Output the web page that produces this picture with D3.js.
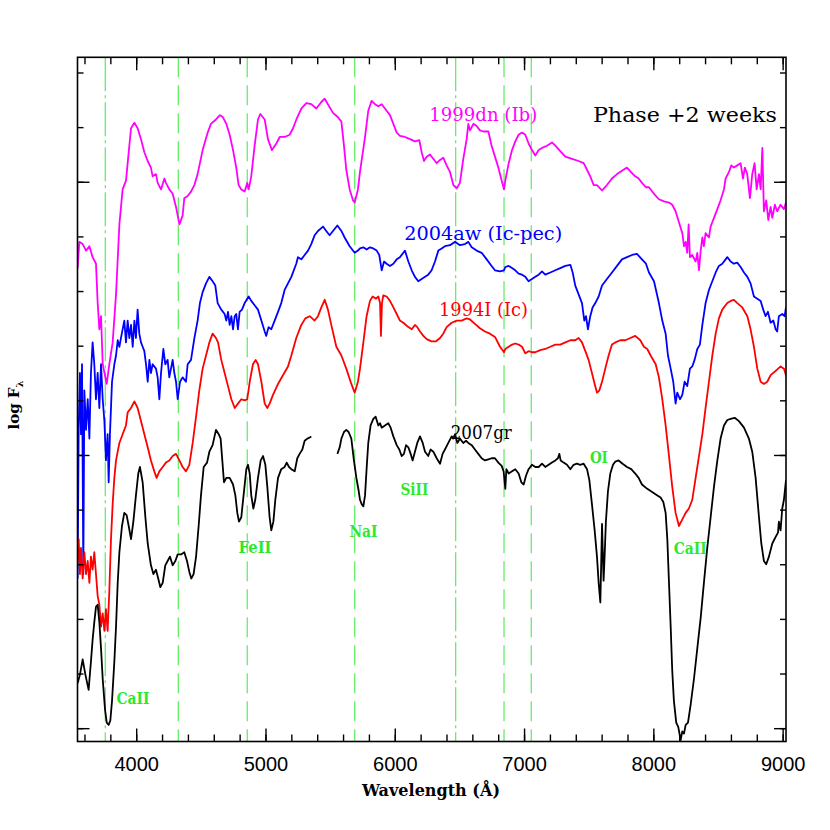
<!DOCTYPE html>
<html>
<head>
<meta charset="utf-8">
<script src="https://cdn.jsdelivr.net/npm/d3@7"></script>
<style>
body { margin: 0; background: #fff; }
svg { display: block; }
</style>
</head>
<body>
<div id="chart"></div>
<script>
// spectra: [wavelength (A), log F + offset]
var sn1999dn = [[3547,4.21],[3560,4.45],[3586,4.43],[3612,4.37],[3638,4.41],[3663,4.31],[3689,4.25],[3702,3.89],[3715,3.65],[3728,3.77],[3741,3.33],[3772,3.15],[3792,3.33],[3818,3.53],[3844,3.97],[3870,4.61],[3895,4.93],[3921,5.01],[3934,5.17],[3960,5.49],[3986,5.54],[4011,5.49],[4037,5.39],[4063,5.27],[4089,5.19],[4114,5.13],[4127,5.05],[4153,5.07],[4166,4.99],[4192,4.93],[4218,5.03],[4230,4.99],[4256,4.93],[4282,4.89],[4308,4.77],[4334,4.61],[4359,4.69],[4372,4.85],[4398,4.87],[4424,4.91],[4450,4.97],[4475,5.07],[4514,5.29],[4553,5.45],[4578,5.53],[4617,5.57],[4648,5.61],
  [4671,5.59],[4697,5.53],[4723,5.43],[4749,5.29],[4774,5.13],[4792,4.97],[4813,4.93],[4839,4.91],[4859,4.99],[4870,4.93],[4890,5.05],[4916,5.33],[4942,5.57],[4960,5.62],[4994,5.57],[5019,5.39],[5050,5.29],[5084,5.35],[5110,5.41],[5148,5.41],[5187,5.43],[5213,5.49],[5239,5.57],[5277,5.67],[5316,5.72],[5354,5.71],[5393,5.67],[5432,5.73],[5458,5.76],[5483,5.71],[5522,5.63],[5561,5.59],[5587,5.55],[5607,5.33],[5625,5.11],[5651,4.93],[5677,4.83],[5690,4.81],[5715,4.93],
  [5731,5.09],[5770,5.41],[5795,5.65],[5821,5.74],[5847,5.71],[5873,5.69],[5899,5.71],[5924,5.67],[5963,5.61],[5989,5.53],[6015,5.45],[6040,5.42],[6079,5.41],[6118,5.39],[6156,5.37],[6190,5.38],[6208,5.27],[6226,5.19],[6247,5.23],[6272,5.25],[6298,5.21],[6324,5.17],[6350,5.20],[6375,5.22],[6401,5.15],[6427,5.09],[6453,4.97],[6479,4.94],[6504,4.99],[6530,5.21],[6556,5.39],[6569,5.53],[6582,5.47],[6608,5.53],[6633,5.51],[6659,5.47],[6685,5.46],[6724,5.46],[6749,5.33],[6775,5.23],[6801,5.13],[6827,5.01],[6845,4.93],
  [6855,5.01],[6881,5.17],[6907,5.29],[6932,5.37],[6958,5.43],[6984,5.45],[7010,5.43],[7035,5.35],[7061,5.29],[7087,5.24],[7113,5.29],[7139,5.31],[7177,5.33],[7216,5.36],[7242,5.33],[7280,5.28],[7319,5.23],[7371,5.21],[7422,5.19],[7461,5.17],[7487,5.11],[7512,5.05],[7538,4.97],[7564,4.97],[7603,4.92],[7641,4.97],[7680,5.03],[7719,5.07],[7757,5.10],[7796,5.13],[7835,5.08],[7860,5.05],[7886,5.03],[7912,4.99],
  [7943,4.95],[7966,4.95],[8005,4.89],[8043,4.84],[8082,4.82],[8121,4.81],[8146,4.79],[8172,4.73],[8198,4.63],[8224,4.53],[8237,4.41],[8250,4.45],[8262,4.35],[8273,4.61],[8283,4.31],[8301,4.33],[8327,4.27],[8340,4.35],[8353,4.19],[8366,4.37],[8379,4.49],[8391,4.41],[8404,4.53],[8430,4.49],[8443,4.59],[8456,4.63],[8469,4.67],[8495,4.75],[8520,4.83],[8546,4.93],[8559,5.03],[8585,5.09],[8603,5.15],[8623,5.13],[8649,5.15],[8675,5.17],[8693,5.03],[8708,5.13],[8726,5.07],[8747,4.85],[8765,5.07],[8783,5.17],[8799,4.93],[8817,5.07],[8830,4.93],[8843,5.31],[8855,4.73],[8873,4.83],[8889,4.65],[8907,4.77],[8920,4.67],[8940,4.79],[8958,4.73],[8984,4.79],[9010,4.75],[9026,4.81]];

var sn2004aw = [[3547,1.37],[3555,2.73],[3565,3.25],[3573,2.69],[3581,3.33],[3591,1.41],[3599,3.09],[3612,2.73],[3625,3.01],[3638,2.65],[3650,3.25],[3663,3.53],[3676,3.33],[3689,3.01],[3702,3.25],[3715,2.93],[3728,3.33],[3741,3.01],[3754,2.81],[3766,2.45],[3779,2.69],[3787,2.25],[3797,2.69],[3813,3.17],[3831,3.33],[3844,3.41],[3857,3.55],[3870,3.49],[3882,3.57],[3895,3.65],[3908,3.73],[3921,3.53],[3934,3.73],[3947,3.57],[3960,3.69],[3973,3.49],[3986,3.73],[3998,3.57],[4011,3.83],[4024,3.61],[4037,3.53],[4050,3.49],[4063,3.45],[4076,3.33],[4089,3.17],[4102,3.37],[4114,3.25],[4127,3.33],[4153,3.29],[4166,3.21],[4179,3.01],[4192,3.25],[4210,3.47],[4225,3.33],[4243,3.37],[4256,3.21],[4282,3.37],[4295,3.25],[4308,3.17],[4321,3.01],[4339,3.17],[4359,3.21],[4385,3.17],[4398,3.33],[4424,3.37],[4450,3.57],[4475,3.73],[4493,3.89],[4514,3.99],[4540,4.07],[4566,4.13],[4591,4.09],[4612,4.05],[4630,3.89],
  [4658,3.83],[4684,3.79],[4697,3.73],[4710,3.81],[4723,3.69],[4736,3.77],[4749,3.65],[4762,3.77],[4774,3.79],[4787,3.65],[4800,3.81],[4818,3.83],[4839,3.89],[4870,3.95],[4890,3.91],[4916,3.87],[4942,3.83],[4968,3.73],[4994,3.63],[5006,3.59],[5024,3.67],[5045,3.65],[5071,3.73],[5097,3.81],[5122,3.89],[5148,4.01],[5174,4.07],[5200,4.13],[5238,4.25],[5251,4.31],[5277,4.29],[5303,4.33],[5329,4.37],[5354,4.43],[5380,4.51],[5406,4.55],[5445,4.59],[5470,4.55],[5496,4.51],[5522,4.55],[5556,4.60],[5587,4.55],[5612,4.49],[5651,4.41],[5690,4.35],[5715,4.37],
  [5731,4.39],[5757,4.40],[5782,4.38],[5808,4.40],[5834,4.39],[5860,4.37],[5880,4.33],[5899,4.19],[5917,4.27],[5937,4.25],[5963,4.23],[5989,4.25],[6015,4.29],[6040,4.31],[6079,4.37],[6105,4.27],[6131,4.19],[6156,4.13],[6182,4.09],[6208,4.11],[6234,4.13],[6259,4.15],[6285,4.19],[6311,4.27],[6337,4.37],[6363,4.39],[6388,4.41],[6427,4.42],[6466,4.45],[6504,4.42],[6543,4.43],[6569,4.45],[6595,4.40],[6633,4.37],[6672,4.35],[6711,4.29],[6749,4.23],[6775,4.19],[6814,4.18],[6845,4.19],
  [6855,4.22],[6881,4.23],[6907,4.21],[6932,4.19],[6958,4.16],[6984,4.15],[7010,4.13],[7035,4.09],[7061,4.11],[7087,4.13],[7113,4.15],[7139,4.18],[7164,4.15],[7203,4.17],[7242,4.19],[7280,4.21],[7319,4.23],[7358,4.24],[7376,4.17],[7396,4.05],[7422,3.97],[7448,3.89],[7466,3.73],[7479,3.77],[7494,3.65],[7512,3.77],[7530,3.85],[7551,3.89],[7577,3.95],[7603,4.05],[7641,4.11],[7680,4.17],[7719,4.23],[7757,4.29],[7796,4.31],[7835,4.33],[7873,4.34],[7912,4.29],[7943,4.25],
  [7966,4.17],[8005,4.09],[8043,3.89],[8069,3.73],[8095,3.61],[8113,3.41],[8134,3.29],[8154,3.17],[8172,2.97],[8185,3.07],[8206,3.01],[8224,3.05],[8242,3.17],[8262,3.13],[8283,3.29],[8301,3.31],[8319,3.37],[8340,3.47],[8360,3.51],[8379,3.69],[8404,3.89],[8430,4.01],[8456,4.09],[8482,4.17],[8507,4.23],[8533,4.25],[8559,4.29],[8572,4.31],[8598,4.27],[8623,4.25],[8649,4.26],[8675,4.22],[8701,4.17],[8727,4.13],[8752,4.07],[8778,3.95],[8804,3.93],[8830,3.91],[8850,3.83],[8868,3.77],[8886,3.81],[8907,3.71],[8928,3.73],[8946,3.65],[8958,3.63],[8971,3.77],[8997,3.79],[9015,3.77],[9026,3.85]];

var sn1994I = [[3547,1.53],[3555,1.73],[3565,1.41],[3573,1.65],[3586,1.37],[3599,1.61],[3612,1.41],[3625,1.53],[3638,1.33],[3650,1.57],[3663,1.45],[3676,1.61],[3689,1.41],[3702,1.21],[3715,1.13],[3728,0.93],[3741,1.05],[3754,0.89],[3766,1.09],[3779,0.89],[3792,1.25],[3805,1.73],[3818,2.05],[3831,2.29],[3844,2.45],[3857,2.53],[3870,2.61],[3895,2.69],[3908,2.73],[3921,2.77],[3934,2.89],[3960,2.93],[3986,2.99],[4011,2.93],[4037,2.81],[4063,2.69],[4089,2.57],[4114,2.45],[4140,2.35],[4158,2.29],[4179,2.35],[4205,2.39],[4230,2.43],[4256,2.45],[4282,2.49],[4308,2.51],[4334,2.45],[4359,2.39],[4385,2.35],[4411,2.41],[4437,2.61],[4463,2.85],[4488,3.09],[4514,3.29],[4540,3.41],[4566,3.53],[4591,3.61],[4617,3.57],
  [4633,3.53],[4658,3.37],[4684,3.25],[4710,3.13],[4736,3.01],[4762,2.93],[4787,2.97],[4813,3.01],[4839,3.00],[4859,3.01],[4878,3.17],[4903,3.33],[4924,3.37],[4942,3.33],[4968,3.17],[4994,2.97],[5014,2.93],[5032,2.97],[5058,3.05],[5097,3.15],[5135,3.23],[5174,3.31],[5200,3.41],[5238,3.57],[5277,3.69],[5308,3.75],[5342,3.77],[5380,3.73],[5406,3.77],[5432,3.85],[5458,3.92],[5483,3.83],[5509,3.69],[5548,3.49],[5587,3.41],[5625,3.29],[5664,3.15],[5690,3.07],[5715,3.17],
  [5731,3.29],[5757,3.53],[5782,3.77],[5808,3.91],[5829,3.95],[5855,3.93],[5873,3.95],[5886,3.89],[5893,3.59],[5901,3.89],[5911,3.96],[5937,3.95],[5963,3.91],[5989,3.85],[6015,3.79],[6040,3.73],[6066,3.71],[6105,3.67],[6131,3.65],[6156,3.69],[6174,3.67],[6195,3.63],[6221,3.59],[6247,3.56],[6285,3.54],[6319,3.54],[6350,3.57],[6375,3.61],[6401,3.67],[6440,3.71],[6479,3.73],[6517,3.73],[6556,3.75],[6582,3.74],[6620,3.70],[6659,3.66],[6698,3.63],[6736,3.61],[6775,3.58],[6814,3.49],[6845,3.44],
  [6855,3.47],[6881,3.49],[6907,3.51],[6932,3.52],[6958,3.51],[6984,3.49],[7010,3.43],[7035,3.45],[7061,3.44],[7087,3.44],[7125,3.46],[7164,3.47],[7203,3.49],[7242,3.51],[7280,3.51],[7319,3.53],[7358,3.55],[7396,3.55],[7422,3.57],[7448,3.53],[7474,3.45],[7499,3.37],[7525,3.25],[7546,3.15],[7564,3.07],[7582,3.09],[7603,3.17],[7628,3.29],[7654,3.41],[7680,3.51],[7706,3.53],[7744,3.55],[7783,3.55],[7822,3.57],[7860,3.59],[7899,3.55],[7927,3.49],
  [7953,3.47],[7979,3.41],[8018,3.33],[8043,3.21],[8069,3.01],[8095,2.77],[8121,2.49],[8146,2.21],[8172,1.97],[8198,1.85],[8224,1.91],[8250,1.97],[8275,2.01],[8301,2.09],[8327,2.29],[8353,2.49],[8379,2.69],[8404,2.93],[8430,3.17],[8456,3.41],[8482,3.61],[8507,3.75],[8533,3.83],[8572,3.89],[8598,3.91],[8623,3.92],[8649,3.89],[8688,3.85],[8727,3.77],[8752,3.65],[8778,3.49],[8804,3.29],[8830,3.17],[8855,3.15],[8881,3.17],[8907,3.23],[8946,3.27],[8984,3.31],[9010,3.29],[9026,3.23]];

// 2007gr has a gap in the data near 5450 A
var sn2007gr = [[3547,0.41],[3565,0.49],[3586,0.63],[3607,0.49],[3632,0.35],[3650,0.61],[3663,0.81],[3676,0.97],[3689,1.11],[3702,1.13],[3715,0.97],[3728,0.73],[3741,0.45],[3759,0.17],[3772,0.05],[3787,0.03],[3800,0.07],[3813,0.25],[3831,0.61],[3844,0.93],[3857,1.33],[3870,1.61],[3890,1.85],[3908,1.97],[3926,1.95],[3942,1.85],[3960,1.73],[3978,1.89],[3998,2.13],[4016,2.33],[4029,2.39],[4050,2.25],[4071,1.93],[4089,1.69],[4114,1.49],[4133,1.41],[4153,1.45],[4166,1.39],[4187,1.29],[4205,1.33],[4225,1.49],[4243,1.53],[4261,1.57],[4282,1.49],[4303,1.53],[4321,1.59],[4347,1.59],[4372,1.61],[4393,1.53],[4411,1.43],[4426,1.37],[4444,1.41],[4463,1.57],[4483,1.85],[4501,2.13],[4522,2.39],[4548,2.43],[4566,2.53],[4591,2.59],[4617,2.73],[4638,2.69],
  [4653,2.65],[4666,2.45],[4679,2.25],[4697,2.29],[4723,2.29],[4749,2.23],[4767,2.13],[4782,1.97],[4795,1.89],[4813,1.93],[4834,2.17],[4852,2.37],[4865,2.41],[4878,2.33],[4890,2.13],[4906,2.01],[4921,2.09],[4942,2.29],[4963,2.45],[4981,2.49],[4999,2.41],[5014,2.21],[5032,1.93],[5045,1.81],[5061,1.89],[5076,2.09],[5097,2.29],[5122,2.37],[5148,2.39],[5164,2.43],[5182,2.39],[5200,2.37],[5226,2.35],[5246,2.47],[5264,2.51],[5285,2.55],[5303,2.63],[5324,2.65],[5342,2.66],[5354,2.67],
  [5450,null],
  [5556,2.51],[5574,2.57],[5587,2.65],[5607,2.71],[5625,2.73],[5643,2.71],[5664,2.65],[5684,2.45],[5703,2.29],[5721,2.17],
  [5731,2.09],[5744,2.05],[5757,2.03],[5770,2.13],[5782,2.37],[5795,2.61],[5813,2.77],[5834,2.83],[5852,2.85],[5873,2.77],[5886,2.79],[5899,2.75],[5924,2.77],[5950,2.79],[5968,2.75],[5989,2.67],[6015,2.59],[6035,2.55],[6053,2.49],[6071,2.51],[6087,2.59],[6105,2.57],[6123,2.51],[6138,2.45],[6156,2.53],[6174,2.61],[6195,2.67],[6216,2.61],[6234,2.53],[6259,2.49],[6277,2.55],[6298,2.53],[6324,2.47],[6350,2.42],[6370,2.51],[6388,2.55],[6414,2.61],[6440,2.67],[6453,2.65],[6466,2.69],[6484,2.61],[6504,2.65],[6530,2.61],[6551,2.63],[6569,2.61],[6595,2.59],[6620,2.55],[6646,2.51],[6672,2.47],[6698,2.45],[6724,2.46],[6749,2.47],[6775,2.47],[6801,2.43],[6827,2.40],
  [6842,2.35],[6855,2.19],[6863,2.37],[6881,2.33],[6907,2.35],[6932,2.37],[6958,2.33],[6979,2.25],[6997,2.23],[7015,2.31],[7035,2.37],[7061,2.41],[7087,2.39],[7113,2.39],[7139,2.42],[7164,2.39],[7190,2.41],[7216,2.43],[7242,2.45],[7262,2.47],[7273,2.51],[7283,2.45],[7306,2.43],[7332,2.41],[7358,2.37],[7383,2.41],[7409,2.42],[7435,2.41],[7461,2.42],[7487,2.37],[7505,2.27],[7525,2.05],[7546,1.81],[7564,1.57],[7577,1.33],[7590,1.15],[7597,1.53],[7603,1.87],[7608,1.65],[7615,1.35],[7623,1.57],[7633,1.89],[7649,2.17],[7667,2.33],[7688,2.41],[7706,2.44],[7731,2.45],[7762,2.42],[7796,2.39],[7829,2.37],[7860,2.33],[7886,2.29],[7912,2.23],
  [7953,2.19],[7979,2.17],[8005,2.15],[8031,2.13],[8056,2.11],[8077,2.07],[8095,1.97],[8108,1.73],[8121,1.33],[8134,0.93],[8146,0.53],[8159,0.25],[8177,0.05],[8193,0.01],[8211,-0.11],[8224,-0.03],[8237,-0.05],[8250,0.03],[8268,0.05],[8288,0.21],[8314,0.45],[8340,0.73],[8366,1.01],[8391,1.33],[8417,1.65],[8443,1.93],[8469,2.21],[8495,2.45],[8520,2.65],[8546,2.77],[8572,2.82],[8598,2.83],[8629,2.84],[8662,2.81],[8701,2.75],[8739,2.65],[8765,2.53],[8791,2.29],[8817,1.93],[8835,1.69],[8855,1.53],[8873,1.50],[8894,1.57],[8920,1.69],[8946,1.75],[8964,1.79],[8971,1.89],[8984,1.81],[8997,2.01],[9010,2.09],[9026,2.27]];

// vertical line ids (A) and labels
var lineWaves = [3761, 4326, 4859, 5690, 6471, 6845, 7056];
var ionNames = ["CaII", "FeII", "NaI", "SiII", "OI", "CaII"];
var ionWaves = [3975, 4919, 5758, 6152, 7579, 8285];
var ionFlux = [0.22, 1.60, 1.75, 2.13, 2.43, 1.59];

var snNames = ["1999dn (Ib)", "2004aw (Ic-pec)", "1994I (Ic)", "2007gr"];
var snColors = ["#ff00ff", "#0000ff", "#ff0000", "#000000"];
var snLabelWave = [6684, 6684, 6686, 6669];
var snLabelFlux = [5.56, 4.47, 3.77, 2.65];

// ticks
var xMajor = [4000, 5000, 6000, 7000, 8000, 9000];
var xMinor = d3.range(3600, 9001, 200);
var yMajor = [0, 2.5, 5];
var yMinor = d3.range(0, 6.01, 0.5);

var width = 830, height = 830;
var margin = {top: 57.3, right: 44, bottom: 88.5, left: 77.5};
var serif = "'DejaVu Serif', 'Liberation Serif', serif";

var x = d3.scaleLinear().domain([3546, 9026]).range([margin.left, width - margin.right]);
var y = d3.scaleLinear().domain([-0.122, 6.139]).range([height - margin.bottom, margin.top]);

var svg = d3.select('#chart').append('svg')
    .attr('width', width)
    .attr('height', height);

svg.append('clipPath').attr('id', 'plotClip')
  .append('rect')
    .attr('x', margin.left).attr('y', margin.top)
    .attr('width', width - margin.left - margin.right)
    .attr('height', height - margin.top - margin.bottom);

// green dashed line markers
var dashes = ["34,4,3,4", "20,8", "20,8", "20,8", "34,4,3,4", "20,8", "20,8"];
svg.append('g').selectAll('line')
  .data(lineWaves)
  .enter().append('line')
    .attr('x1', function(d) { return x(d); })
    .attr('x2', function(d) { return x(d); })
    .attr('y1', margin.top)
    .attr('y2', height - margin.bottom)
    .attr('stroke', '#66ee66')
    .attr('stroke-width', 1.3)
    .attr('stroke-dasharray', function(d, i) { return dashes[i]; });

// spectra
var line = d3.line()
    .defined(function(d) { return d[1] !== null; })
    .x(function(d) { return x(d[0]); })
    .y(function(d) { return y(d[1]); });

var spectra = [sn1999dn, sn2004aw, sn1994I, sn2007gr];
svg.append('g').attr('clip-path', 'url(#plotClip)')
  .selectAll('path')
  .data(spectra)
  .enter().append('path')
    .attr('d', line)
    .attr('fill', 'none')
    .attr('stroke', function(d, i) { return snColors[i]; })
    .attr('stroke-width', 1.8)
    .attr('stroke-linejoin', 'round');

// axes (ticks point inwards)
function addAxis(axis, transform, values, size, labels) {
  axis.tickValues(values).tickSize(size).tickSizeOuter(0);
  if (labels) axis.tickPadding(15).tickFormat(d3.format('d'));
  else axis.tickFormat('');
  var g = svg.append('g').attr('transform', transform).call(axis);
  g.select('.domain').remove();
  g.selectAll('line').attr('stroke', '#000').attr('stroke-width', 1.4);
  g.selectAll('text')
    .attr('font-family', "'Liberation Sans', Arial, sans-serif")
    .attr('font-size', 20)
    .attr('fill', '#000');
  return g;
}
var bottomY = height - margin.bottom, rightX = width - margin.right;
addAxis(d3.axisBottom(x), 'translate(0,' + bottomY + ')', xMinor, -7, false);
addAxis(d3.axisBottom(x), 'translate(0,' + bottomY + ')', xMajor, -13, true);
addAxis(d3.axisTop(x), 'translate(0,' + margin.top + ')', xMinor, -7, false);
addAxis(d3.axisTop(x), 'translate(0,' + margin.top + ')', xMajor, -13, false);
addAxis(d3.axisLeft(y), 'translate(' + margin.left + ',0)', yMinor, -6, false);
addAxis(d3.axisLeft(y), 'translate(' + margin.left + ',0)', yMajor, -12, false);
addAxis(d3.axisRight(y), 'translate(' + rightX + ',0)', yMinor, -6, false);
addAxis(d3.axisRight(y), 'translate(' + rightX + ',0)', yMajor, -12, false);

// frame
svg.append('rect')
    .attr('x', margin.left).attr('y', margin.top)
    .attr('width', width - margin.left - margin.right)
    .attr('height', height - margin.top - margin.bottom)
    .attr('fill', 'none')
    .attr('stroke', '#000')
    .attr('stroke-width', 1.6);

// ion labels
var ionWidths = [33, 33, 28, 28, 18, 33];
svg.append('g').selectAll('text')
  .data(ionNames)
  .enter().append('text')
    .attr('x', function(d, i) { return x(ionWaves[i]); })
    .attr('y', function(d, i) { return y(ionFlux[i]); })
    .attr('text-anchor', 'middle')
    .attr('font-family', serif)
    .attr('font-weight', 'bold')
    .attr('font-size', 17)
    .attr('textLength', function(d, i) { return ionWidths[i]; })
    .attr('lengthAdjust', 'spacingAndGlyphs')
    .attr('fill', '#2ee82e')
    .text(function(d) { return d; });

// supernova labels
var snWidths = [108, 158, 89, 61];
svg.append('g').selectAll('text')
  .data(snNames)
  .enter().append('text')
    .attr('x', function(d, i) { return x(snLabelWave[i]); })
    .attr('y', function(d, i) { return y(snLabelFlux[i]); })
    .attr('text-anchor', 'middle')
    .attr('font-family', serif)
    .attr('font-size', 18)
    .attr('textLength', function(d, i) { return snWidths[i]; })
    .attr('lengthAdjust', 'spacingAndGlyphs')
    .attr('fill', function(d, i) { return snColors[i]; })
    .text(function(d) { return d; });

svg.append('text')
    .attr('x', x(8244)).attr('y', y(5.55))
    .attr('text-anchor', 'middle')
    .attr('font-family', serif)
    .attr('font-size', 21)
    .attr('textLength', 184)
    .attr('lengthAdjust', 'spacingAndGlyphs')
    .text('Phase +2 weeks');

// axis titles
svg.append('text')
    .attr('x', 431).attr('y', 796)
    .attr('text-anchor', 'middle')
    .attr('font-family', serif)
    .attr('font-weight', 'bold')
    .attr('font-size', 17)
    .attr('textLength', 138)
    .attr('lengthAdjust', 'spacingAndGlyphs')
    .text('Wavelength (\u00c5)');

var ylab = svg.append('text')
    .attr('transform', 'translate(19,405) rotate(-90)')
    .attr('text-anchor', 'middle')
    .attr('font-family', serif)
    .attr('font-weight', 'bold')
    .attr('font-size', 15);
ylab.append('tspan').text('log F');
ylab.append('tspan').attr('font-size', 10).attr('dy', 4).text('\u03bb');
</script>
</body>
</html>
